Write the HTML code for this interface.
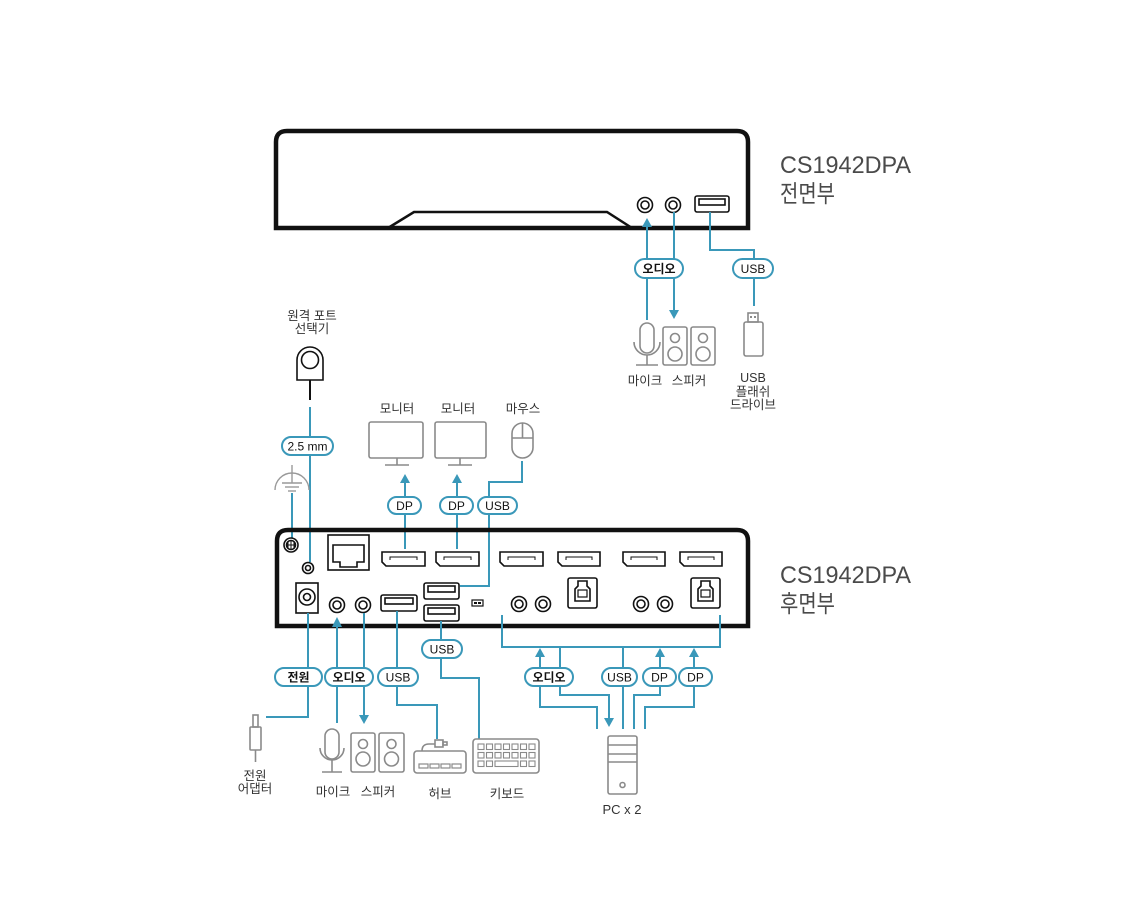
<!DOCTYPE html>
<html><head><meta charset="utf-8"><style>
html,body{margin:0;padding:0;background:#fff;}
svg{display:block;}
text{font-family:"Liberation Sans","Noto Sans CJK KR",sans-serif;}
.lbl{font-size:12.5px;fill:#333;text-anchor:middle;}
.pt{font-size:12px;fill:#111;text-anchor:middle;}
.pk{font-size:12px;fill:#111;text-anchor:middle;font-weight:bold;}
.ttl{font-size:24px;fill:#4a4a4a;}
</style></head><body>
<svg width="1140" height="913" viewBox="0 0 1140 913" xmlns="http://www.w3.org/2000/svg">
<rect width="1140" height="913" fill="#fff"/>

<!-- ============ FRONT PANEL ============ -->
<path d="M276 228 V142 Q276 131 287 131 H737 Q748 131 748 142 V228 Z" fill="none" stroke="#111" stroke-width="4.5"/>
<path d="M388 228 L414 212 H607 L632 228" fill="none" stroke="#111" stroke-width="2.5"/>
<g fill="none" stroke="#111" stroke-width="1.6">
<circle cx="645" cy="205" r="7.5"/><circle cx="645" cy="205" r="4"/>
<circle cx="673" cy="205" r="7.5"/><circle cx="673" cy="205" r="4"/>
<rect x="695" y="196" width="34" height="16" rx="2"/><rect x="699" y="199" width="26" height="6"/>
</g>
<text class="ttl" x="780" y="173" textLength="131" lengthAdjust="spacingAndGlyphs">CS1942DPA</text>
<text class="ttl" x="780" y="202" textLength="55" lengthAdjust="spacingAndGlyphs">전면부</text>

<!-- front connections -->
<g fill="none" stroke="#3a98b9" stroke-width="2">
<line x1="647" y1="226" x2="647" y2="320"/>
<line x1="674" y1="212" x2="674" y2="311"/>
<path d="M710 212 V250 H754 V306"/>
</g>
<g fill="#3a98b9">
<polygon points="647,218 642,227 652,227"/>
<polygon points="674,319 669,310 679,310"/>
</g>
<g fill="#fff" stroke="#3a98b9" stroke-width="2">
<rect x="635" y="259" width="48" height="19" rx="9.5"/>
<rect x="733" y="259" width="40" height="19" rx="9.5"/>
</g>
<text class="pk" x="659" y="273">오디오</text>
<text class="pt" x="753" y="273">USB</text>

<!-- front devices -->
<g fill="none" stroke="#8a8a8a" stroke-width="1.6">
<rect x="640" y="323" width="14" height="30" rx="7"/>
<path d="M634 342 A13 13 0 0 0 660 342"/>
<line x1="647" y1="355" x2="647" y2="365"/>
<line x1="636" y1="365" x2="658" y2="365"/>
<rect x="663" y="327" width="24" height="38" rx="2"/>
<circle cx="675" cy="338" r="4.5"/><circle cx="675" cy="354" r="7"/>
<rect x="691" y="327" width="24" height="38" rx="2"/>
<circle cx="703" cy="338" r="4.5"/><circle cx="703" cy="354" r="7"/>
<rect x="748" y="313" width="10" height="9"/>
<rect x="744" y="322" width="19" height="34" rx="2"/>
</g>
<g fill="#8a8a8a"><rect x="750" y="316" width="2" height="2"/><rect x="754" y="316" width="2" height="2"/></g>
<text class="lbl" x="645" y="385">마이크</text>
<text class="lbl" x="689" y="385">스피커</text>
<text class="lbl" x="753" y="382">USB</text>
<text class="lbl" x="753" y="396">플래쉬</text>
<text class="lbl" x="753" y="409">드라이브</text>

<!-- ============ REMOTE SELECTOR ============ -->
<text class="lbl" x="312" y="320">원격 포트</text>
<text class="lbl" x="312" y="333">선택기</text>
<g fill="none" stroke="#111" stroke-width="1.6">
<path d="M297 380 V360 A13 13 0 0 1 323 360 V380 Z"/>
<circle cx="310" cy="360" r="8.5"/>
</g>
<line x1="310" y1="380" x2="310" y2="400" stroke="#111" stroke-width="2"/>
<line x1="310" y1="407" x2="310" y2="562" stroke="#3a98b9" stroke-width="2"/>
<rect x="282" y="437" width="51" height="18" rx="9" fill="#fff" stroke="#3a98b9" stroke-width="2"/>
<text class="pt" x="307.5" y="450.5">2.5 mm</text>

<!-- ground symbol -->
<g fill="none" stroke="#999" stroke-width="1.4">
<path d="M275 490 A17 17 0 0 1 309 490"/>
<line x1="292" y1="465" x2="292" y2="483"/>
<line x1="282" y1="483" x2="302" y2="483"/>
<line x1="285" y1="487" x2="299" y2="487"/>
<line x1="288" y1="491" x2="296" y2="491"/>
</g>
<line x1="292" y1="493" x2="292" y2="538" stroke="#3a98b9" stroke-width="2"/>

<!-- ============ MONITORS / MOUSE ============ -->
<text class="lbl" x="397" y="413">모니터</text>
<text class="lbl" x="458" y="413">모니터</text>
<text class="lbl" x="523" y="413">마우스</text>
<g fill="none" stroke="#8a8a8a" stroke-width="1.6">
<rect x="369" y="422" width="54" height="36" rx="2"/>
<line x1="397" y1="458" x2="397" y2="465"/><line x1="385" y1="465" x2="409" y2="465"/>
<rect x="435" y="422" width="51" height="36" rx="2"/>
<line x1="460" y1="458" x2="460" y2="465"/><line x1="448" y1="465" x2="472" y2="465"/>
<rect x="512" y="423" width="21" height="35" rx="10.5"/>
<line x1="522.5" y1="423" x2="522.5" y2="438"/><line x1="512" y1="438" x2="533" y2="438"/>
</g>
<g fill="none" stroke="#3a98b9" stroke-width="2">
<line x1="405" y1="482" x2="405" y2="549"/>
<line x1="457" y1="482" x2="457" y2="549"/>
<path d="M522 461 V482 H489 V586 H460"/>
</g>
<g fill="#3a98b9">
<polygon points="405,474 400,483 410,483"/>
<polygon points="457,474 452,483 462,483"/>
</g>
<g fill="#fff" stroke="#3a98b9" stroke-width="2">
<rect x="388" y="497" width="33" height="17" rx="8.5"/>
<rect x="440" y="497" width="33" height="17" rx="8.5"/>
<rect x="478" y="497" width="39" height="17" rx="8.5"/>
</g>
<text class="pt" x="404.5" y="510">DP</text>
<text class="pt" x="456.5" y="510">DP</text>
<text class="pt" x="497.5" y="510">USB</text>

<!-- ============ REAR PANEL ============ -->
<path d="M277 626 V541 Q277 530 288 530 H737 Q748 530 748 541 V626 Z" fill="none" stroke="#111" stroke-width="4.5"/>
<text class="ttl" x="780" y="583" textLength="131" lengthAdjust="spacingAndGlyphs">CS1942DPA</text>
<text class="ttl" x="780" y="612" textLength="55" lengthAdjust="spacingAndGlyphs">후면부</text>

<g fill="none" stroke="#111" stroke-width="1.6">
<!-- ground screw -->
<circle cx="291" cy="545" r="7"/><circle cx="291" cy="545" r="4.5"/>
<path d="M288 541.5 V548.5 M291 540.5 V549.5 M294 541.5 V548.5 M287 545 H295" stroke-width="1"/>
<!-- 2.5mm jack -->
<circle cx="308" cy="568" r="5.5"/><circle cx="308" cy="568" r="2.5"/>
<!-- RJ45 -->
<rect x="328" y="535" width="41" height="35"/>
<path d="M333 545 H364 V562 H357 V567 H340 V562 H333 Z"/>
<!-- power -->
<rect x="296" y="583" width="22" height="30"/>
<circle cx="307" cy="597" r="8"/><circle cx="307" cy="597" r="3.5"/>
<!-- audio jacks -->
<circle cx="337" cy="605" r="7.5"/><circle cx="337" cy="605" r="4"/>
<circle cx="363" cy="605" r="7.5"/><circle cx="363" cy="605" r="4"/>
<circle cx="519" cy="604" r="7.5"/><circle cx="519" cy="604" r="4"/>
<circle cx="543" cy="604" r="7.5"/><circle cx="543" cy="604" r="4"/>
<circle cx="641" cy="604" r="7.5"/><circle cx="641" cy="604" r="4"/>
<circle cx="665" cy="604" r="7.5"/><circle cx="665" cy="604" r="4"/>
<!-- DP ports -->
<path d="M382 552 H425 V566 H386 L382 562 Z"/><path d="M390 560 V557 H417 V560" stroke-width="1"/>
<path d="M436 552 H479 V566 H440 L436 562 Z"/><path d="M444 560 V557 H471 V560" stroke-width="1"/>
<path d="M500 552 H543 V566 H504 L500 562 Z"/><path d="M508 560 V557 H535 V560" stroke-width="1"/>
<path d="M558 552 H600 V566 H562 L558 562 Z"/><path d="M566 560 V557 H592 V560" stroke-width="1"/>
<path d="M623 552 H665 V566 H627 L623 562 Z"/><path d="M631 560 V557 H657 V560" stroke-width="1"/>
<path d="M680 552 H722 V566 H684 L680 562 Z"/><path d="M688 560 V557 H714 V560" stroke-width="1"/>
<!-- USB-A -->
<rect x="381" y="595" width="36" height="16" rx="2"/><rect x="385" y="598" width="28" height="6"/>
<rect x="424" y="583" width="35" height="16" rx="2"/><rect x="428" y="586" width="27" height="6"/>
<rect x="424" y="605" width="35" height="16" rx="2"/><rect x="428" y="608" width="27" height="6"/>
<!-- USB-B -->
<rect x="568" y="578" width="29" height="30" rx="2"/>
<path d="M575 601 V589 L578 586 V581 H587 V586 L590 589 V601 Z"/><rect x="578" y="590" width="9" height="7" stroke-width="1.2"/>
<rect x="691" y="578" width="29" height="30" rx="2"/>
<path d="M698 601 V589 L701 586 V581 H710 V586 L713 589 V601 Z"/><rect x="701" y="590" width="9" height="7" stroke-width="1.2"/>
<!-- switch -->
<rect x="472" y="600" width="11" height="6" stroke-width="1.2"/>
</g>
<rect x="474" y="602" width="3" height="2" fill="#111"/><rect x="478" y="602" width="3" height="2" fill="#111"/>

<!-- rear bottom connections -->
<g fill="none" stroke="#3a98b9" stroke-width="2">
<path d="M308 613 V717 H266"/>
<line x1="337" y1="626" x2="337" y2="723"/>
<line x1="364" y1="613" x2="364" y2="716"/>
<path d="M397 611 V705 H437 V739"/>
<path d="M441 621 V678 H479 V739"/>
<path d="M502 615 V647 H720 V615"/>
<path d="M540 656 V707 H597 V729"/>
<path d="M560 647 V695 H609 V719"/>
<line x1="623" y1="647" x2="623" y2="729"/>
<path d="M660 656 V695 H634 V729"/>
<path d="M694 656 V707 H645 V729"/>
</g>
<g fill="#3a98b9">
<polygon points="337,617 332,627 342,627"/>
<polygon points="364,724 359,715 369,715"/>
<polygon points="540,648 535,657 545,657"/>
<polygon points="660,648 655,657 665,657"/>
<polygon points="694,648 689,657 699,657"/>
<polygon points="609,727 604,718 614,718"/>
</g>
<g fill="#fff" stroke="#3a98b9" stroke-width="2">
<rect x="422" y="640" width="40" height="18" rx="9"/>
<rect x="275" y="668" width="47" height="18" rx="9"/>
<rect x="325" y="668" width="48" height="18" rx="9"/>
<rect x="378" y="668" width="40" height="18" rx="9"/>
<rect x="525" y="668" width="48" height="18" rx="9"/>
<rect x="602" y="668" width="35" height="18" rx="9"/>
<rect x="643" y="668" width="33" height="18" rx="9"/>
<rect x="679" y="668" width="33" height="18" rx="9"/>
</g>
<text class="pt" x="442" y="653.5">USB</text>
<text class="pk" x="298.5" y="681.5">전원</text>
<text class="pk" x="349" y="681.5">오디오</text>
<text class="pt" x="398" y="681.5">USB</text>
<text class="pk" x="549" y="681.5">오디오</text>
<text class="pt" x="619.5" y="681.5">USB</text>
<text class="pt" x="659.5" y="681.5">DP</text>
<text class="pt" x="695.5" y="681.5">DP</text>

<!-- rear devices -->
<g fill="none" stroke="#8a8a8a" stroke-width="1.6">
<!-- power adapter -->
<rect x="253" y="715" width="5" height="12"/>
<rect x="250" y="727" width="11" height="23" rx="1"/>
<line x1="255.5" y1="750" x2="255.5" y2="762"/>
<!-- mic -->
<rect x="325" y="729" width="14" height="30" rx="7"/>
<path d="M320 748 A12 12 0 0 0 344 748"/>
<line x1="332" y1="760" x2="332" y2="772"/>
<line x1="322" y1="772" x2="342" y2="772"/>
<!-- speakers -->
<rect x="351" y="733" width="24" height="39" rx="2"/>
<circle cx="363" cy="744" r="4.5"/><circle cx="363" cy="759" r="7"/>
<rect x="379" y="733" width="25" height="39" rx="2"/>
<circle cx="391.5" cy="744" r="4.5"/><circle cx="391.5" cy="759" r="7"/>
<!-- hub -->
<rect x="414" y="751" width="52" height="22" rx="3"/>
<path d="M422 751 Q422 744 429 744 H435"/>
<rect x="435" y="740" width="8" height="7"/>
<rect x="443" y="742" width="4" height="3"/>
<rect x="419" y="764" width="9" height="4" stroke-width="1.2"/>
<rect x="430" y="764" width="9" height="4" stroke-width="1.2"/>
<rect x="441" y="764" width="9" height="4" stroke-width="1.2"/>
<rect x="452" y="764" width="9" height="4" stroke-width="1.2"/>
<!-- keyboard -->
<rect x="473" y="739" width="66" height="34" rx="3"/>
<!-- PC -->
<rect x="608" y="736" width="29" height="58" rx="2"/>
<line x1="608" y1="745" x2="637" y2="745"/>
<line x1="608" y1="754" x2="637" y2="754"/>
<line x1="608" y1="762" x2="637" y2="762"/>
<circle cx="622.5" cy="785" r="2.5"/>
</g>
<g fill="none" stroke="#8a8a8a" stroke-width="1.1">
<rect x="478" y="744" width="6" height="5.5"/><rect x="486.5" y="744" width="6" height="5.5"/><rect x="495" y="744" width="6" height="5.5"/><rect x="503.5" y="744" width="6" height="5.5"/><rect x="512" y="744" width="6" height="5.5"/><rect x="520.5" y="744" width="6" height="5.5"/><rect x="529" y="744" width="6" height="5.5"/>
<rect x="478" y="752.5" width="6" height="5.5"/><rect x="486.5" y="752.5" width="6" height="5.5"/><rect x="495" y="752.5" width="6" height="5.5"/><rect x="503.5" y="752.5" width="6" height="5.5"/><rect x="512" y="752.5" width="6" height="5.5"/><rect x="520.5" y="752.5" width="6" height="5.5"/><rect x="529" y="752.5" width="6" height="5.5"/>
<rect x="478" y="761" width="6" height="5.5"/><rect x="486.5" y="761" width="6" height="5.5"/><rect x="495" y="761" width="23" height="5.5"/><rect x="520.5" y="761" width="6" height="5.5"/><rect x="529" y="761" width="6" height="5.5"/>
</g>

<text class="lbl" x="255" y="780">전원</text>
<text class="lbl" x="255" y="793">어댑터</text>
<text class="lbl" x="333" y="796">마이크</text>
<text class="lbl" x="378" y="796">스피커</text>
<text class="lbl" x="440" y="798">허브</text>
<text class="lbl" x="507" y="798">키보드</text>
<text class="lbl" x="622" y="814" style="font-size:13px">PC x 2</text>
</svg>
</body></html>
